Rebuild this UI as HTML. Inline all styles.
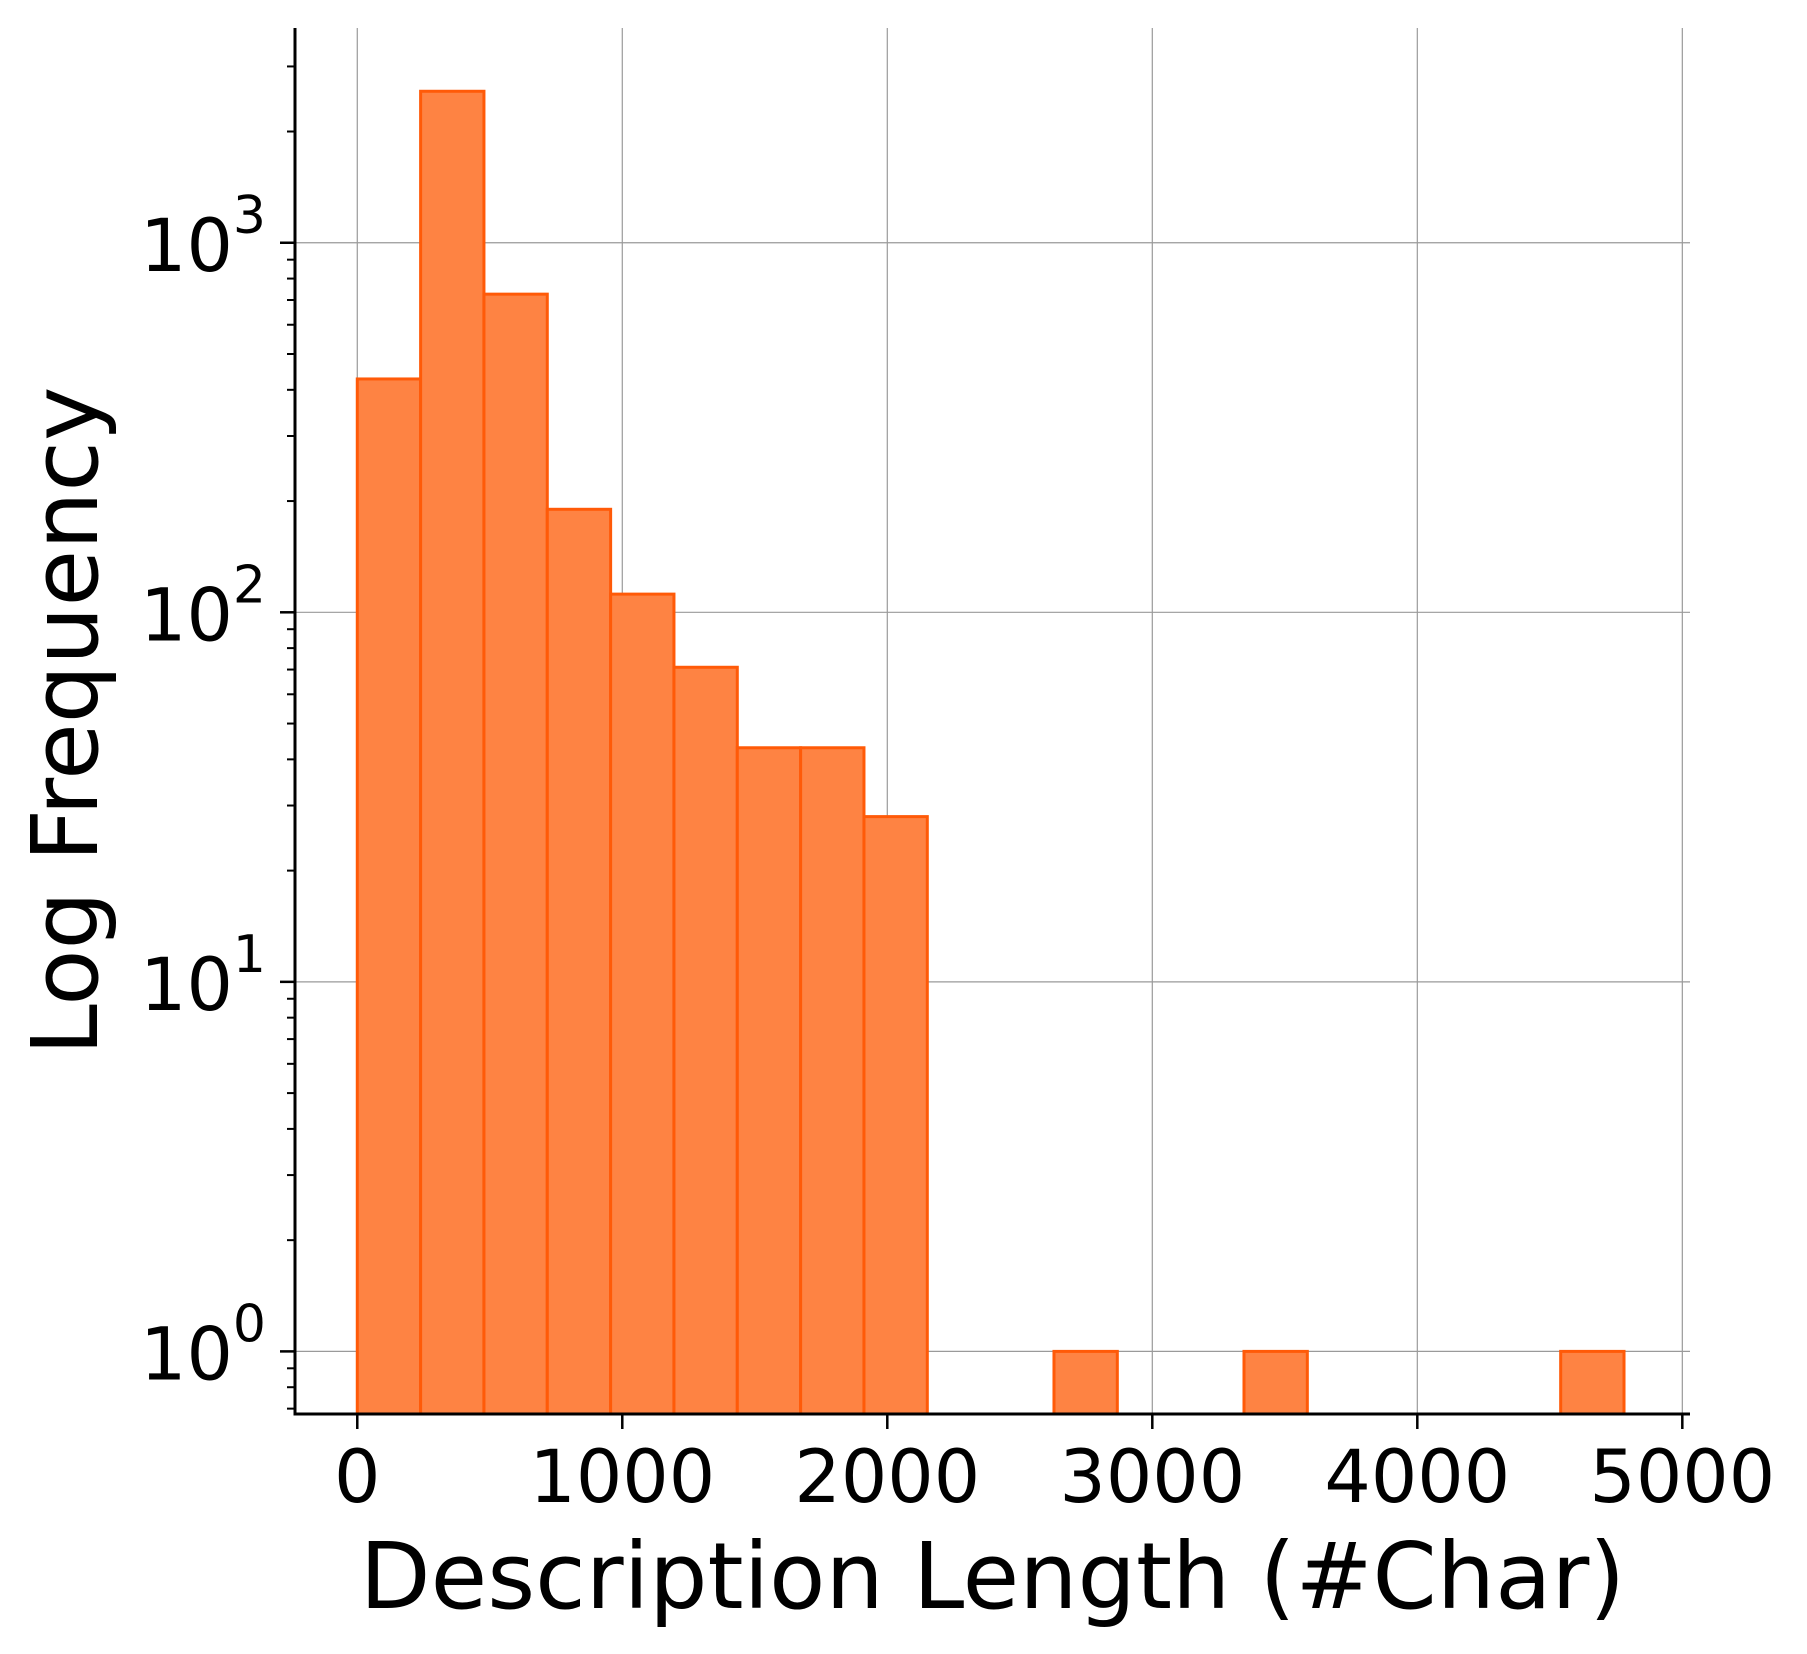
<!DOCTYPE html>
<html><head><meta charset="utf-8"><style>
html,body{margin:0;padding:0;background:#fff;}
svg{display:block;font-family:"DejaVu Sans","Liberation Sans",sans-serif;}
</style></head><body>
<svg id="chart" width="1807" height="1654" viewBox="0 0 1807 1654" xmlns="http://www.w3.org/2000/svg"></svg>
<script>
const binStart = [0,239,478,717,956,1195,1434,1673,1912,2629,3346,4541];
const binWidth = [239,239,239,239,239,239,239,239,239,239,239,239];
const counts = [428,2570,726,190,112,71,43,43,28,1,1,1];
const xTicks = [0,1000,2000,3000,4000,5000];
const xTickLabels = ["0","1000","2000","3000","4000","5000"];
const yDecades = [0,1,2,3];

const NS="http://www.w3.org/2000/svg";
const svg=document.getElementById('chart');
const L=295,R=1690,T=28,B=1414;
const xMin=-235,xMax=5029;
const yLogMin=Math.log10(0.677),yLogMax=Math.log10(3812);
function xs(v){return L+(v-xMin)/(xMax-xMin)*(R-L);}
function ys(v){return B-(Math.log10(v)-yLogMin)/(yLogMax-yLogMin)*(B-T);}
function el(tag,attrs,parent){const e=document.createElementNS(NS,tag);for(const k in attrs)e.setAttribute(k,attrs[k]);(parent||svg).appendChild(e);return e;}

// grid
const grid=el('g',{});


xTicks.forEach(t=>{el('line',{x1:xs(t),x2:xs(t),y1:T,y2:B,stroke:'#9a9a9a','stroke-width':1.2},grid);});
yDecades.forEach(d=>{const y=ys(Math.pow(10,d));el('line',{x1:L,x2:R,y1:y,y2:y,stroke:'#9a9a9a','stroke-width':1.2},grid);});

// bars
const bars=el('g',{});


counts.forEach((c,i)=>{
  const x0=xs(binStart[i]),x1=xs(binStart[i]+binWidth[i]);
  const r=el('rect',{x:x0,y:ys(c),width:x1-x0,height:B-ys(c),fill:'#fe8343',stroke:'#ff5a08','stroke-width':3},bars);
  
  
});

// spines
const sp=el('g',{});


el('line',{x1:L,x2:L,y1:T,y2:B+1.5,stroke:'#000','stroke-width':3},sp);
el('line',{x1:L-1.5,x2:R,y1:B,y2:B,stroke:'#000','stroke-width':3},sp);

// x ticks
const xa=el('g',{});


xTicks.forEach((t,i)=>{
  const x=xs(t);
  el('line',{x1:x,x2:x,y1:B,y2:B+15,stroke:'#000','stroke-width':2.5},xa);
  const tx=el('text',{x:x,y:1502,'text-anchor':'middle','font-size':73,fill:'#000'},xa);
  tx.textContent=xTickLabels[i];
  
  
});

// y ticks
const ya=el('g',{});


for(let d=-1;d<=3;d++){
  for(let m=1;m<=9;m++){
    const v=m*Math.pow(10,d);
    if(v<0.677||v>3812)continue;
    const y=ys(v);
    if(m===1){
      el('line',{x1:L-15,x2:L,y1:y,y2:y,stroke:'#000','stroke-width':2.5},ya);
    }else{
      el('line',{x1:L-8,x2:L,y1:y,y2:y,stroke:'#000','stroke-width':2},ya);
    }
  }
}
yDecades.forEach(d=>{
  const y=ys(Math.pow(10,d));
  const t=el('text',{x:266,y:y+28,'text-anchor':'end','font-size':73,fill:'#000'},ya);
  
  
  const a=el('tspan',{},t);a.textContent='10';
  const b=el('tspan',{dy:-38,'font-size':52},t);b.textContent=String(d);
});

// axis titles
const xt=el('text',{x:(L+R)/2,y:1608,'text-anchor':'middle','font-size':92,fill:'#000'});
xt.textContent='Description Length (#Char)';


const ytt=el('text',{x:0,y:0,'text-anchor':'middle','font-size':92,fill:'#000',transform:'translate(97,721) rotate(-90)'});
ytt.textContent='Log Frequency';


</script>
</body></html>
